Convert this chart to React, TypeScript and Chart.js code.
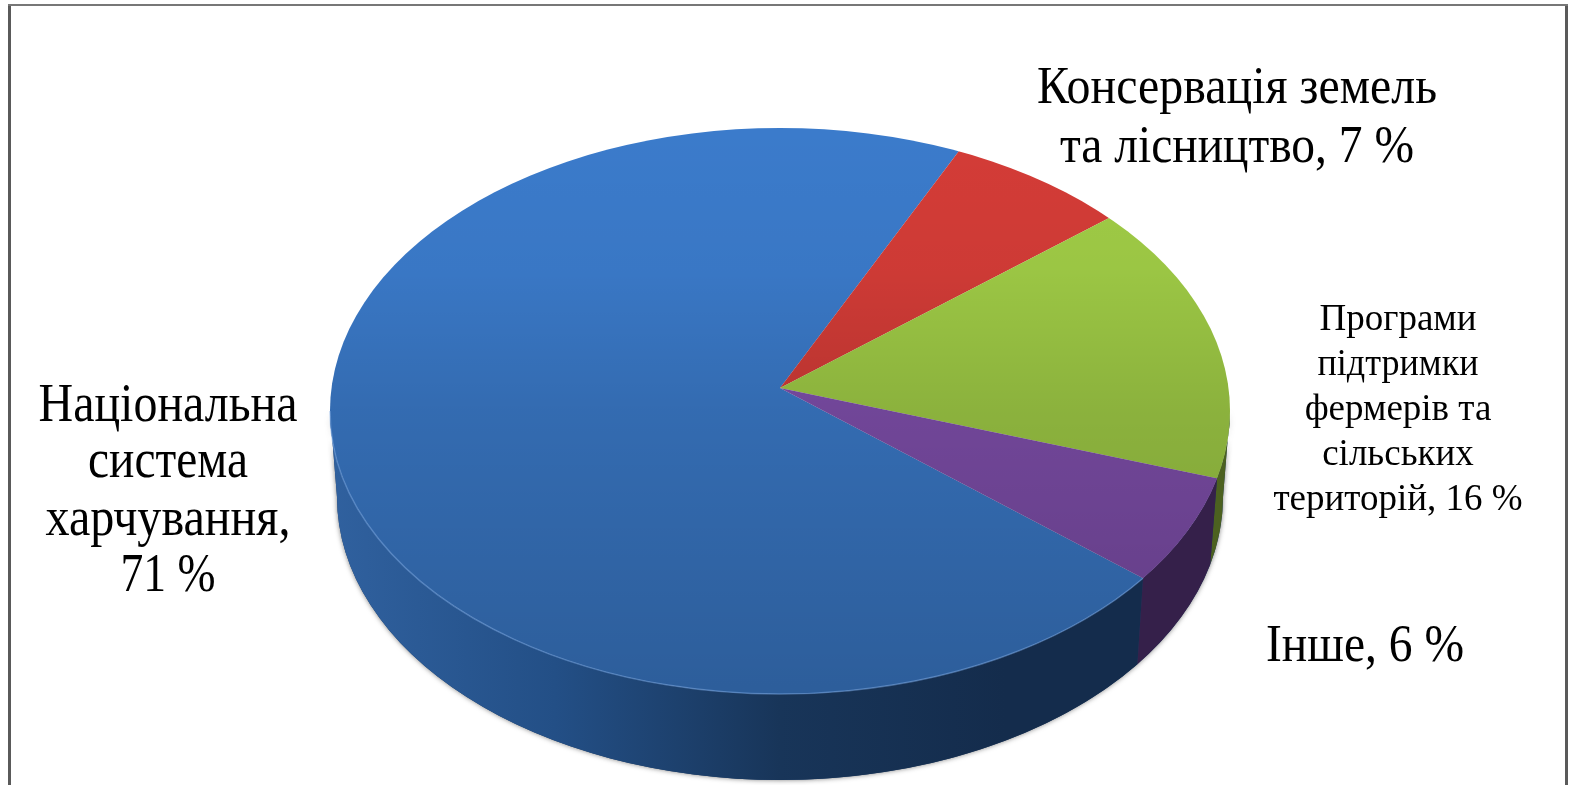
import React, { useEffect, useRef } from "react";
import { Chart, registerables } from "chart.js";

Chart.register(...registerables);

const categories = [
  "Національна система харчування",
  "Консервація земель та лісництво",
  "Програми підтримки фермерів та сільських територій",
  "Інше",
];
const values = [71, 7, 16, 6];
const topColors = ["#3b7bcb", "#d43c37", "#a0cc46", "#8150ae"];
const sideColors = ["#1d4475", "#6b1f1c", "#4c6120", "#35204a"];
const blueSideStops = ["#30619f", "#234f86", "#183559", "#142c4c", "#142c4c"];

const labelBlocks = [
  { lines: ["Національна", "система", "харчування,", "71 %"], x: 168, ys: [421, 477, 535, 591], size: 54, widths: [259, 160, 245, 95] },
  { lines: ["Консервація земель", "та лісництво, 7 %"], x: 1237, ys: [103, 162], size: 52, widths: [400, 354] },
  { lines: ["Програми", "підтримки", "фермерів та", "сільських", "територій, 16 %"], x: 1398, ys: [330, 375, 420, 465, 510], size: 37, widths: [157, 161, 188, 152, 251] },
  { lines: ["Інше, 6 %"], x: 1365, ys: [661], size: 52, widths: [198] },
];

const RX = 450;
const RY = 283;
const ELLIPSE_DROP = 23; // ellipse centre sits below the apex: perspective of the view
const DEPTH = 86;
const BOTTOM_RX = 443;

const pie3d = {
  id: "pie3d",
  beforeDatasetsDraw(chart: any) {
    const ctx: CanvasRenderingContext2D = chart.ctx;
    const meta = chart.getDatasetMeta(0);
    const first = meta.data[0];
    const cx = first.x;
    const apexY = first.y;
    const cy = apexY + ELLIPSE_DROP;
    const R = first.outerRadius;
    const b = -ELLIPSE_DROP / RY;

    // where a slice edge leaving the apex meets the rim, as an ellipse parameter
    const rimAngle = (a: number) => {
      const s = Math.sin(a);
      const u = -b * s + Math.sqrt(b * b * s * s - b * b + 1);
      return Math.atan2(b + u * s, u * Math.cos(a));
    };
    const norm = (a: number) => {
      const t = Math.PI * 2;
      return ((a % t) + t) % t;
    };

    const sidePath = (a0: number, a1: number) => {
      ctx.beginPath();
      ctx.ellipse(cx, cy, RX, RY, 0, a0, a1, false);
      ctx.ellipse(cx, cy + DEPTH, BOTTOM_RX, RY, 0, a1, a0, true);
      ctx.closePath();
    };

    // soft edge of the whole body
    ctx.save();
    ctx.shadowColor = "rgba(40,40,40,0.6)";
    ctx.shadowBlur = 5;
    ctx.fillStyle = "#1d3c64";
    sidePath(0, Math.PI);
    ctx.fill();
    ctx.restore();

    // side wall of each slice, from the arc elements' own angles
    meta.data.forEach((arc: any, i: number) => {
      const a0 = norm(rimAngle(arc.startAngle));
      let a1 = norm(rimAngle(arc.endAngle));
      if (a1 <= a0) a1 += Math.PI * 2;
      const ranges: [number, number][] = [
        [Math.max(a0, 0), Math.min(a1, Math.PI)],
        [Math.max(a0, Math.PI * 2), Math.min(a1, Math.PI * 3)],
      ];
      ranges.forEach(([s, e]) => {
        if (e <= s) return;
        sidePath(s, e);
        if (i === 0) {
          const g = ctx.createLinearGradient(cx - RX, 0, cx + RX, 0);
          blueSideStops.forEach((c, k) => g.addColorStop(k / (blueSideStops.length - 1), c));
          ctx.fillStyle = g;
        } else {
          ctx.fillStyle = sideColors[i];
        }
        ctx.fill();
      });
    });

    const topPath = () => {
      ctx.beginPath();
      ctx.ellipse(cx, cy, RX, RY, 0, 0, Math.PI * 2);
      ctx.closePath();
    };

    // top face: the library's arcs, squashed and clipped to the rim
    ctx.save();
    topPath();
    ctx.clip();
    ctx.save();
    const over = 1.3;
    ctx.translate(cx, apexY);
    ctx.scale((over * RX) / R, (over * RY) / R);
    ctx.translate(-cx, -apexY);
    meta.data.forEach((arc: any) => arc.draw(ctx));
    ctx.restore();
    const shade = ctx.createLinearGradient(0, cy - RY, 0, cy + RY);
    shade.addColorStop(0, "rgba(0,0,0,0)");
    shade.addColorStop(0.25, "rgba(0,0,0,0.03)");
    shade.addColorStop(0.5, "rgba(0,0,0,0.13)");
    shade.addColorStop(1, "rgba(0,0,0,0.24)");
    ctx.fillStyle = shade;
    ctx.fillRect(0, 0, chart.width, chart.height);
    ctx.restore();

    // light rim on the near edge of the big slice
    ctx.save();
    ctx.strokeStyle = "rgba(120,165,225,0.5)";
    ctx.lineWidth = 1.5;
    ctx.beginPath();
    ctx.ellipse(cx, cy, RX, RY, 0, norm(rimAngle(first.startAngle)), Math.PI, false);
    ctx.stroke();
    ctx.restore();
    return false;
  },
  afterDraw(chart: any) {
    const ctx: CanvasRenderingContext2D = chart.ctx;
    ctx.save();
    ctx.fillStyle = "#000";
    ctx.textAlign = "center";
    ctx.textBaseline = "alphabetic";
    labelBlocks.forEach((b) => {
      ctx.font = `${b.size}px "Liberation Serif"`;
      b.lines.forEach((t, i) => ctx.fillText(t, b.x, b.ys[i], b.widths[i]));
    });
    // picture frame
    ctx.lineCap = "butt";
    ctx.strokeStyle = "#5a5a5a";
    ctx.lineWidth = 3;
    ctx.beginPath();
    ctx.moveTo(9.5, 4);
    ctx.lineTo(9.5, 785);
    ctx.moveTo(1566.5, 4);
    ctx.lineTo(1566.5, 785);
    ctx.stroke();
    ctx.strokeStyle = "#777";
    ctx.lineWidth = 2;
    ctx.beginPath();
    ctx.moveTo(8, 5);
    ctx.lineTo(1568, 5);
    ctx.stroke();
    ctx.restore();
  },
};

export default function App() {
  const ref = useRef<HTMLCanvasElement | null>(null);
  useEffect(() => {
    const chart = new Chart(ref.current as HTMLCanvasElement, {
      type: "pie",
      data: {
        labels: categories,
        datasets: [{ data: values, backgroundColor: topColors, borderWidth: 0 }],
      },
      options: {
        animation: false,
        responsive: false,
        rotation: 129.8,
        layout: { padding: { right: 9, bottom: 9 } },
        plugins: { legend: { display: false }, tooltip: { enabled: false }, title: { display: false } },
      },
      plugins: [pie3d],
    } as any);
    return () => chart.destroy();
  }, []);
  return (
    <div style={{ position: "absolute", left: 0, top: 0, width: 1569, height: 785, background: "#fff" }}>
      <canvas ref={ref} width={1569} height={785} style={{ display: "block" }} />
    </div>
  );
}
